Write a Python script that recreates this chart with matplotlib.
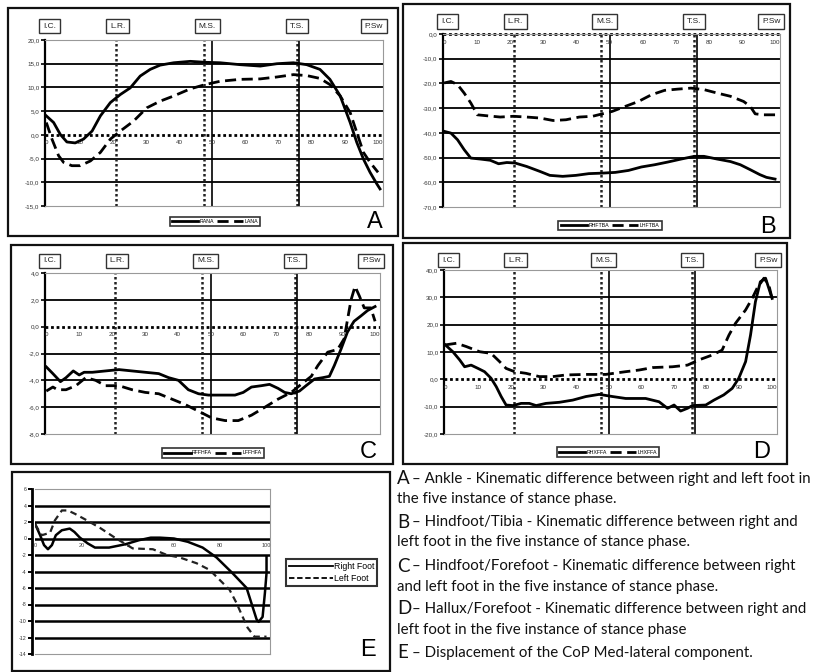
import numpy as np
import matplotlib.pyplot as plt
from matplotlib.patches import Rectangle
from matplotlib.lines import Line2D

W, H = 817, 672

# ---- panel A : ankle ----
a_x_right = [0, 2.2, 4.2, 6.2, 8.7, 11.2, 13.8, 16.3, 19.3, 22.3, 25.3, 28.3, 31.3, 34.3, 38.4, 43.4,
             47.9, 52.4, 58.4, 64.5, 69.5, 74.5, 78.5, 82.5, 85.5, 88.6, 91.6, 93.6, 95.6, 97.6, 99.6, 100.6]
a_right = [4.0, 2.6, 0.1, -1.5, -1.7, -0.9, 0.8, 4.0, 6.8, 8.5, 9.9, 12.4, 13.8, 14.7, 15.2, 15.5,
           15.3, 15.2, 14.8, 14.5, 15.0, 15.2, 14.8, 13.8, 11.7, 8.2, 2.6, -1.6, -5.1, -7.9, -10.3, -11.4]
a_x_left = [0, 1.7, 3.7, 5.2, 7.7, 10.2, 13.3, 16.3, 19.3, 22.3, 26.3, 30.3, 34.3, 38.4, 43.4, 47.9,
            52.4, 58.4, 64.5, 69.5, 74.5, 78.5, 82.5, 85.5, 88.6, 91.6, 93.6, 95.6, 97.6, 100]
a_left = [2.6, -0.9, -4.4, -5.8, -6.5, -6.5, -5.5, -3.7, -0.9, 0.8, 2.9, 5.7, 7.1, 8.2, 9.7, 10.6,
          11.3, 11.7, 11.8, 12.2, 12.7, 12.5, 11.9, 10.6, 8.2, 4.7, 0.5, -3.7, -5.8, -7.9]
a_yticks = [-15, -10, -5, 0, 5, 10, 15, 20]
a_names = ["RANA", "LANA"]

# ---- panel B : hindfoot / tibia ----
b_x_right = [0, 2, 4, 6, 8, 10.9, 13.9, 16.4, 18.9, 21.4, 24.9, 28.9, 31.9, 35.8, 39.8, 43.7, 47.7,
             51.7, 55.7, 59.6, 63.6, 67.6, 71.6, 75.6, 78.5, 82.5, 86.5, 89.5, 92.5, 95.4, 97.4, 100]
b_right = [-39.4, -40.1, -42.8, -46.8, -50.2, -50.6, -51.1, -52.5, -52.0, -52.2, -53.6, -55.6, -57.2,
           -57.6, -57.2, -56.5, -56.3, -56.0, -55.2, -53.8, -52.9, -51.8, -50.6, -49.5, -49.5, -50.6,
           -51.6, -52.9, -54.9, -56.9, -58.0, -58.7]
b_x_left = [0, 2, 4, 6, 8, 10, 13, 16.9, 20.9, 24.9, 28.9, 32.9, 36.8, 40.8, 44.8, 47.8, 50.8, 54.7,
            58.7, 62.6, 66.6, 70.6, 74.6, 78.5, 82.5, 86.5, 90.5, 92.5, 94, 96.5, 100]
b_left = [-19.8, -19.2, -20.5, -23.9, -27.9, -32.7, -33.1, -33.6, -33.3, -33.6, -34.0, -35.0, -34.7,
          -33.6, -33.3, -32.3, -31.3, -29.3, -27.3, -24.6, -22.8, -22.3, -21.9, -22.5, -23.9, -25.2,
          -27.3, -29.3, -32.3, -32.7, -32.7]
b_yticks = [-70, -60, -50, -40, -30, -20, -10, 0]
b_names = ["RHFTBA", "LHFTBA"]

# ---- panel C : hindfoot / forefoot ----
c_x_right = [0, 2, 4.3, 6, 8.2, 10, 11.5, 14, 18, 22.1, 26.1, 30.1, 34.2, 37.2, 40.2, 43.2, 46.3, 49.3,
             53.3, 57.4, 59.9, 62.4, 65.4, 67.9, 70.5, 72.5, 74.5, 77, 79, 81.6, 84.1, 86.1, 87.6, 89.6,
             91.6, 93.6, 95.7, 97.7, 100]
c_right = [-3.0, -3.5, -4.1, -3.8, -3.3, -3.6, -3.4, -3.4, -3.3, -3.2, -3.3, -3.4, -3.5, -3.8, -4.0,
           -4.7, -5.0, -5.1, -5.1, -5.1, -4.9, -4.5, -4.4, -4.3, -4.6, -4.9, -5.0, -4.8, -4.4, -3.9,
           -3.8, -3.7, -2.9, -1.7, -0.4, 0.4, 0.8, 1.2, 1.5]
c_x_left = [0, 2, 3.4, 6, 9, 12, 15, 18, 22.1, 26.1, 30.1, 34.2, 38.2, 42.2, 46.3, 50.3, 54.4, 58.4,
            62.4, 66.5, 70.5, 74.5, 77.5, 80.6, 82.6, 85.6, 88.6, 90.6, 91.6, 92.7, 93.9, 95.2, 96.7,
            98.7, 100]
c_left = [-4.8, -4.5, -4.7, -4.7, -4.4, -3.8, -4.0, -4.4, -4.4, -4.7, -4.9, -5.0, -5.4, -5.8, -6.3,
          -6.8, -7.0, -7.0, -6.6, -6.0, -5.4, -4.9, -4.3, -3.7, -2.9, -1.9, -1.7, -0.9, 0.5, 2.0,
          3.0, 2.3, 1.4, 1.4, 0.4]
c_yticks = [-8, -6, -4, -2, 0, 2, 4]
c_names = ["RFFHFA", "LFFHFA"]

# ---- panel D : hallux / forefoot ----
d_x_right = [0, 2.3, 4.4, 5.9, 7.9, 10, 12, 14, 15.6, 17.1, 18.6, 20.7, 23.2, 25.7, 27.8, 30.8, 34.9,
             39, 43, 47.1, 51.2, 55.2, 61.3, 65.4, 68, 70, 72, 74.1, 75.6, 79.7, 82.2, 85.2, 87.8,
             89.8, 91.9, 93.4, 94.9, 96.4, 98, 100]
d_right = [12.6, 10.1, 7.1, 4.6, 5.2, 4.0, 2.8, 0.4, -2.7, -6.3, -9.4, -9.6, -8.8, -8.8, -9.6, -8.8,
           -8.4, -7.6, -6.3, -5.5, -6.3, -7.0, -7.0, -8.2, -10.6, -9.4, -11.6, -10.6, -9.6, -9.4,
           -7.6, -5.7, -3.3, 0.4, 6.5, 16.2, 28.4, 35.7, 37.0, 29.6]
d_x_left = [0, 3.4, 6.4, 10.5, 14, 16.6, 18.6, 21.2, 24.7, 28.8, 32.9, 36.9, 43, 49.1, 55.2, 59.3,
            63.4, 69.5, 74.1, 77.6, 81.7, 84.7, 86.8, 88.8, 91.9, 93.9, 95.4, 97.5, 99, 100]
d_left = [12.6, 13.2, 12.0, 10.1, 9.5, 6.5, 4.0, 2.8, 2.2, 1.0, 1.0, 1.6, 1.8, 1.8, 2.8, 3.4, 4.3,
          4.6, 5.2, 7.1, 8.9, 10.7, 16.2, 20.5, 25.4, 29.6, 33.3, 37.0, 34.5, 29.6]
d_yticks = [-20, -10, 0, 10, 20, 30, 40]
d_names = ["RHXFFA", "LHXFFA"]

# ---- panel E : CoP medio-lateral ----
e_x_right = [0, 2.2, 3.9, 5.6, 7.3, 9, 11.6, 15, 17, 19.4, 22.8, 25.9, 32, 39, 45, 50, 54, 60, 66,
             72.4, 78.4, 85.3, 91.4, 94, 95.7, 96.6, 98.3, 99.3, 100, 100]
e_right = [1.8, 0.4, -0.8, -1.3, -0.8, 0.4, 1.0, 1.2, 0.8, 0.1, -0.6, -1.1, -1.1, -0.7, -0.2, 0.1,
           0.1, 0.0, -0.4, -1.1, -2.3, -4.2, -6.0, -8.3, -9.8, -10.1, -9.5, -6.6, -4.2, -2.2]
e_x_left = [0, 3, 6.5, 8.6, 11.6, 14.2, 17.2, 22.4, 28, 34.5, 42.2, 50.9, 57, 62.5, 69.8, 75.4, 79.7,
            84, 87, 89.7, 91.8, 94.8, 98.3, 100]
e_left = [1.7, 0.4, 0.7, 2.2, 3.4, 3.4, 3.0, 2.2, 1.3, 0.1, -1.2, -1.3, -2.0, -2.3, -3.0, -3.8, -5.0,
          -6.2, -7.8, -9.5, -10.8, -11.9, -11.9, -11.9]
e_yticks = [-14, -12, -10, -8, -6, -4, -2, 0, 2, 4, 6]
e_xticks = [0, 20, 40, 60, 80, 100]
e_names = ["Right Foot", "Left Foot"]

phase_names = ["I.C.", "L.R.", "M.S.", "T.S.", "P.Sw"]
phase_pos = [1, 21.5, 48.5, 75.5, 98.8]

caption_letters = ["A", "B", "C", "D", "E"]
caption_lines = [
    ["– Ankle - Kinematic difference between right and left foot in",
     "the five instance of stance phase."],
    ["– Hindfoot/Tibia - Kinematic difference between right and",
     "left foot in the five instance of stance phase."],
    ["– Hindfoot/Forefoot - Kinematic difference between right",
     "and left foot in the five instance of stance phase."],
    ["– Hallux/Forefoot - Kinematic difference between right and",
     "left foot in the five instance of stance phase"],
    ["– Displacement of the CoP Med-lateral component."],
]

plt.rcParams["font.family"] = ["Liberation Sans", "DejaVu Sans"]
fig = plt.figure(figsize=(W / 100, H / 100), dpi=100)
fig.patch.set_facecolor("white")


def px_axes(l, t, r, b):
    return fig.add_axes([l / W, 1 - b / H, (r - l) / W, (b - t) / H])


def frame(l, t, r, b):
    fig.patches.append(Rectangle((l / W, 1 - b / H), (r - l) / W, (b - t) / H,
                                 transform=fig.transFigure, fill=False, ec="#111", lw=1.6))


solid_h = Line2D([], [], color="black", lw=2)
dash_h = Line2D([], [], color="black", lw=2, ls=(0, (4, 2)))


def phase_panel(rect, box, xr, yr, xl, yl, yticks, names, leg_c, letter, letter_c, box_off):
    frame(*box)
    ax = px_axes(*rect)
    ax.set_xlim(-0.4, 101.5)
    ax.set_ylim(yticks[0], yticks[-1])
    for s in ["top", "right", "bottom"]:
        ax.spines[s].set_color("#999")
        ax.spines[s].set_linewidth(0.8)
    ax.spines["left"].set_linewidth(1.6)
    ax.set_xticks([])
    ax.set_yticks(yticks)
    ax.set_yticklabels([f"{v:.1f}".replace(".", ",") for v in yticks])
    ax.tick_params(axis="y", length=3, width=1.2, labelsize=4.5, labelcolor="#333", pad=1)
    for v in yticks[1:-1]:
        if v != 0:
            ax.axhline(v, color="black", lw=1.3, zorder=1)
    ax.axhline(0, color="black", lw=2, ls=(0, (1, 1)), zorder=1, clip_on=False)
    for v in [21, 47.5, 75.5]:
        ax.axvline(v, color="#222", lw=1.8, ls=(0, (1, 1)), zorder=1)
    for v in [50, 76.3]:
        ax.axvline(v, color="black", lw=1.2, zorder=1)
    for k in range(0, 101, 10):
        ax.annotate(str(k), (k, 0), xytext=(0, -4), textcoords="offset points",
                    ha="center", va="top", fontsize=4.5, color="#333")
    ax.plot(xr, yr, color="black", lw=2, zorder=3)
    ax.plot(xl, yl, color="black", lw=2, ls=(0, (4, 2)), zorder=3)
    yax = 1 + box_off / (rect[3] - rect[1])
    for x, n in zip(phase_pos, phase_names):
        ax.text(x, yax, n, transform=ax.get_xaxis_transform(), ha="center", va="center",
                fontsize=6, color="#222", clip_on=False,
                bbox=dict(boxstyle="square,pad=0.45", fc="white", ec="#333", lw=1.0))
    leg = fig.legend([solid_h, dash_h], names, loc="center",
                     bbox_to_anchor=(leg_c[0] / W, 1 - leg_c[1] / H), ncol=2, fontsize=3.8,
                     handlelength=5, columnspacing=0.6, handletextpad=0.2, borderpad=0.45,
                     fancybox=False, edgecolor="black")
    leg.get_frame().set_linewidth(1.2)
    fig.text(letter_c[0] / W, 1 - letter_c[1] / H, letter, fontsize=17, ha="center", va="center")
    return ax


phase_panel((45, 40, 383, 206), (8, 8, 398, 236), a_x_right, a_right, a_x_left, a_left,
            a_yticks, a_names, (215, 221.5), "A", (375, 222), 14)
phase_panel((443, 34, 780, 207), (403, 4, 790, 238), b_x_right, b_right, b_x_left, b_left,
            b_yticks, b_names, (610, 225.5), "B", (768, 227), 12.5)
phase_panel((45, 273, 380, 434), (11, 245, 393, 464), c_x_right, c_right, c_x_left, c_left,
            c_yticks, c_names, (213, 453), "C", (368, 452), 12)
phase_panel((444, 270, 777, 434), (403, 243, 787, 464), d_x_right, d_right, d_x_left, d_left,
            d_yticks, d_names, (608, 452), "D", (762, 452), 10)

# ---- panel E ----
frame(12, 472, 390, 671)
ax = px_axes(35, 489, 270, 654)
ax.set_xlim(0, 101.5)
ax.set_ylim(e_yticks[0], e_yticks[-1])
for s in ["top", "right", "bottom"]:
    ax.spines[s].set_color("#999")
    ax.spines[s].set_linewidth(0.8)
ax.spines["left"].set_linewidth(2)
ax.spines["left"].set_position(("outward", 2))
ax.set_xticks([])
ax.set_yticks(e_yticks)
ax.set_yticklabels([str(v) for v in e_yticks])
ax.tick_params(axis="y", length=3, width=1.4, labelsize=3.8, labelcolor="#333", pad=1)
for v in e_yticks[1:-1]:
    ax.axhline(v, color="black", lw=1.8, zorder=1)
for k in e_xticks:
    ax.annotate(str(k), (k, 0), xytext=(0, -3), textcoords="offset points",
                ha="center", va="top", fontsize=4, color="#444")
ax.plot(e_x_right, e_right, color="black", lw=1.8, zorder=3)
ax.plot(e_x_left, e_left, color="#222", lw=1.6, ls=(0, (3, 2)), zorder=3)
leg = fig.legend([Line2D([], [], color="black", lw=1.3), Line2D([], [], color="black", lw=1.3, ls=(0, (3, 1.5)))],
                 e_names, loc="center", bbox_to_anchor=(331.5 / W, 1 - 572.5 / H), fontsize=6.3,
                 handlelength=5, handletextpad=0.1, borderpad=0.35, labelspacing=0.35,
                 fancybox=False, edgecolor="black")
leg.get_frame().set_linewidth(1.5)
fig.text(368 / W, 1 - 650 / H, "E", fontsize=17, ha="center", va="center")

# ---- caption text ----
cap_font = ["Lato", "DejaVu Sans"]
line_y = [[479, 499], [522, 542], [566, 587], [609, 630], [653]]
for letter, lines, ys in zip(caption_letters, caption_lines, line_y):
    fig.text(397 / W, 1 - ys[0] / H, letter, fontsize=13.5, ha="left", va="center",
             family=cap_font, color="#111")
    fig.text(412 / W, 1 - ys[0] / H, lines[0], fontsize=10.8, ha="left", va="center",
             family=cap_font, color="#111")
    if len(lines) > 1:
        fig.text(397 / W, 1 - ys[1] / H, lines[1], fontsize=10.8, ha="left", va="center",
                 family=cap_font, color="#111")

fig.savefig("out.png", dpi=100)
